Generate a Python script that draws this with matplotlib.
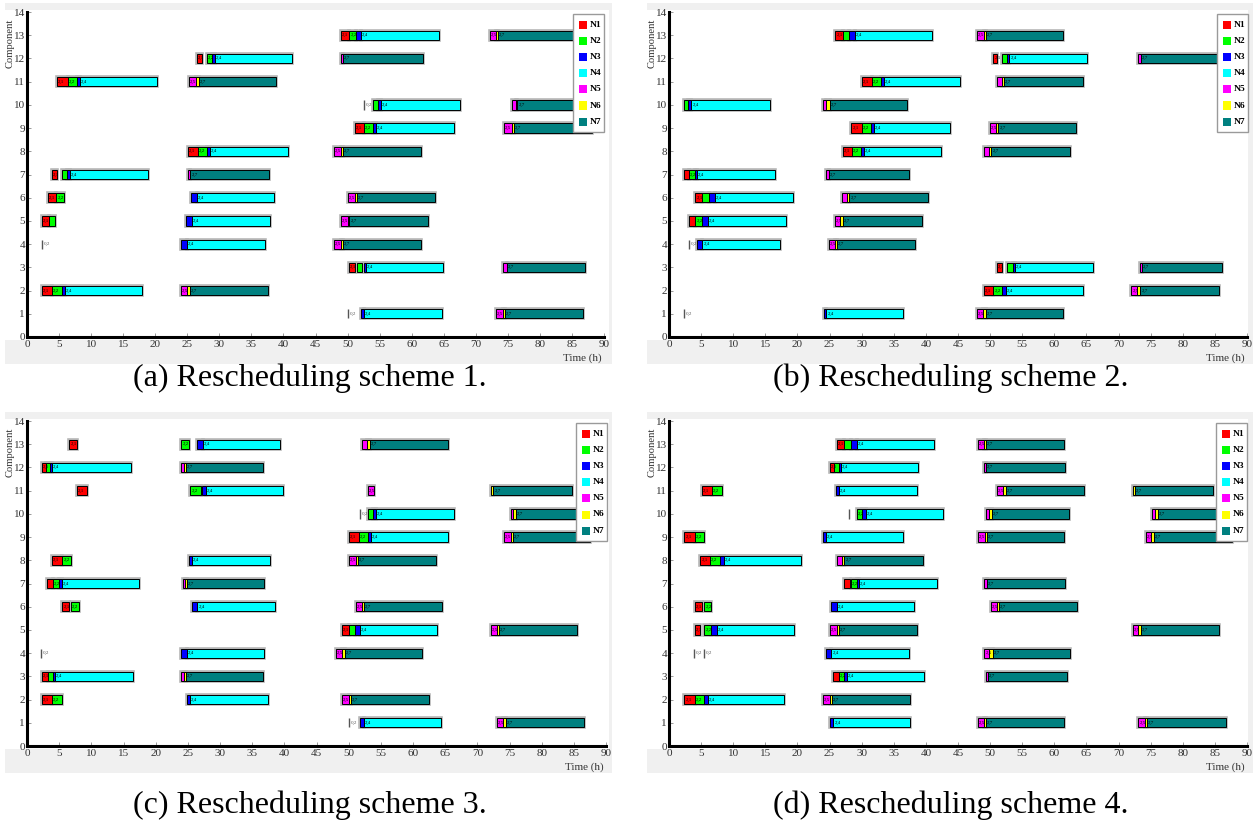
import matplotlib
matplotlib.use("Agg")
import matplotlib.pyplot as plt
from matplotlib.patches import Rectangle

W, H = 1253, 827
plt.rcParams['font.family'] = ['Liberation Serif', 'DejaVu Serif']

machine_names = ["N1", "N2", "N3", "N4", "N5", "N6", "N7"]
machine_colors = ["#ff0000", "#00ff00", "#0000ff", "#00ffff", "#ff00ff", "#ffff00", "#008080"]
captions = ["(a) Rescheduling scheme 1.", "(b) Rescheduling scheme 2.",
            "(c) Rescheduling scheme 3.", "(d) Rescheduling scheme 4."]
x_ticks = list(range(0, 91, 5))
y_ticks = list(range(0, 15))

# segments: (component row, machine number (0 = zero-length mark), start h, end h)
scheme_1 = [
    (13, 1, 48.9, 50.3), (13, 2, 50.3, 51.3), (13, 3, 51.3, 52.1), (13, 4, 52.1, 64.3),
    (13, 5, 72.2, 73.2), (13, 6, 73.2, 73.5), (13, 7, 73.5, 86.5),
    (12, 1, 26.5, 27.3), (12, 2, 28.0, 28.8), (12, 3, 28.8, 29.3), (12, 4, 29.3, 41.3),
    (12, 5, 48.9, 49.3), (12, 7, 49.3, 61.7),
    (11, 1, 4.7, 6.4), (11, 2, 6.4, 7.8), (11, 3, 7.8, 8.2), (11, 4, 8.2, 20.3),
    (11, 5, 25.3, 26.4), (11, 6, 26.4, 26.8), (11, 7, 26.8, 38.9),
    (10, 0, 52.5, 52.5), (10, 2, 54.0, 54.8), (10, 3, 54.8, 55.2), (10, 4, 55.2, 67.5),
    (10, 5, 75.6, 76.2), (10, 6, 76.2, 76.5), (10, 7, 76.5, 87.0),
    (9, 1, 51.1, 52.6), (9, 2, 52.6, 53.9), (9, 3, 53.9, 54.4), (9, 4, 54.4, 66.6),
    (9, 5, 74.4, 75.6), (9, 6, 75.6, 75.9), (9, 7, 75.9, 88.1),
    (8, 1, 25.1, 26.6), (8, 2, 26.6, 28.1), (8, 3, 28.1, 28.5), (8, 4, 28.5, 40.7),
    (8, 5, 47.9, 48.9), (8, 6, 48.9, 49.3), (8, 7, 49.3, 61.5),
    (7, 1, 3.9, 4.7), (7, 2, 5.5, 6.2), (7, 3, 6.2, 6.7), (7, 4, 6.7, 18.8),
    (7, 5, 25.1, 25.5), (7, 7, 25.5, 37.8),
    (6, 1, 3.3, 4.6), (6, 2, 4.6, 5.7), (6, 3, 25.6, 26.5), (6, 4, 26.5, 38.6),
    (6, 5, 50.0, 51.1), (6, 6, 51.1, 51.4), (6, 7, 51.4, 63.6),
    (5, 1, 2.3, 3.4), (5, 2, 3.4, 4.4), (5, 3, 24.8, 25.7), (5, 4, 25.7, 37.9),
    (5, 5, 48.9, 50.0), (5, 6, 50.0, 50.3), (5, 7, 50.3, 62.5),
    (4, 0, 2.3, 2.3), (4, 3, 24.0, 24.9), (4, 4, 24.9, 37.1),
    (4, 5, 47.9, 48.9), (4, 6, 48.9, 49.3), (4, 7, 49.3, 61.5),
    (3, 1, 50.2, 51.1), (3, 2, 51.4, 52.2), (3, 3, 52.5, 52.9), (3, 4, 52.9, 64.9),
    (3, 5, 74.2, 74.8), (3, 7, 74.8, 87.0),
    (2, 1, 2.3, 3.9), (2, 2, 3.9, 5.5), (2, 3, 5.5, 5.9), (2, 4, 5.9, 18.0),
    (2, 5, 24.0, 25.0), (2, 6, 25.0, 25.4), (2, 7, 25.4, 37.6),
    (1, 0, 50.1, 50.1), (1, 3, 52.1, 52.6), (1, 4, 52.6, 64.7),
    (1, 5, 73.2, 74.2), (1, 6, 74.2, 74.5), (1, 7, 74.5, 86.8),
]

scheme_2 = [
    (13, 1, 25.9, 27.1), (13, 2, 27.1, 28.1), (13, 3, 28.1, 28.9), (13, 4, 28.9, 41.0),
    (13, 5, 47.9, 49.0), (13, 6, 49.0, 49.3), (13, 7, 49.3, 61.4),
    (12, 1, 50.5, 51.0), (12, 2, 51.9, 52.6), (12, 3, 52.6, 53.0), (12, 4, 53.0, 65.1),
    (12, 5, 73.1, 73.5), (12, 7, 73.5, 85.5),
    (11, 1, 30.1, 31.6), (11, 2, 31.6, 33.0), (11, 3, 33.0, 33.5), (11, 4, 33.5, 45.3),
    (11, 5, 51.0, 51.8), (11, 6, 51.8, 52.2), (11, 7, 52.2, 64.4),
    (10, 2, 2.3, 3.0), (10, 3, 3.0, 3.5), (10, 4, 3.5, 15.7),
    (10, 5, 24.0, 24.5), (10, 6, 24.5, 25.0), (10, 7, 25.0, 37.1),
    (9, 1, 28.4, 30.1), (9, 2, 30.1, 31.4), (9, 3, 31.4, 31.9), (9, 4, 31.9, 43.7),
    (9, 5, 50.0, 50.9), (9, 6, 50.9, 51.3), (9, 7, 51.3, 63.4),
    (8, 1, 27.1, 28.5), (8, 2, 28.5, 29.9), (8, 3, 29.9, 30.3), (8, 4, 30.3, 42.3),
    (8, 5, 49.0, 49.8), (8, 6, 49.8, 50.2), (8, 7, 50.2, 62.4),
    (7, 1, 2.3, 3.1), (7, 2, 3.1, 4.1), (7, 3, 4.1, 4.4), (7, 4, 4.4, 16.5),
    (7, 5, 24.5, 24.9), (7, 7, 24.9, 37.3),
    (6, 1, 4.1, 5.2), (6, 2, 5.2, 6.2), (6, 3, 6.2, 7.1), (6, 4, 7.1, 19.3),
    (6, 5, 26.9, 27.7), (6, 6, 27.7, 28.1), (6, 7, 28.1, 40.4),
    (5, 1, 3.1, 4.1), (5, 2, 4.1, 5.2), (5, 3, 5.2, 6.0), (5, 4, 6.0, 18.2),
    (5, 5, 25.8, 26.7), (5, 6, 26.7, 27.1), (5, 7, 27.1, 39.4),
    (4, 0, 3.1, 3.1), (4, 3, 4.4, 5.2), (4, 4, 5.2, 17.3),
    (4, 5, 24.9, 25.8), (4, 6, 25.8, 26.2), (4, 7, 26.2, 38.3),
    (3, 1, 51.0, 51.8), (3, 2, 52.7, 53.5), (3, 3, 53.5, 53.9), (3, 4, 53.9, 66.0),
    (3, 5, 73.3, 73.7), (3, 7, 73.7, 86.1),
    (2, 1, 49.0, 50.5), (2, 2, 50.5, 51.9), (2, 3, 51.9, 52.5), (2, 4, 52.5, 64.4),
    (2, 5, 72.0, 72.9), (2, 6, 72.9, 73.4), (2, 7, 73.4, 85.6),
    (1, 0, 2.3, 2.3), (1, 3, 24.1, 24.5), (1, 4, 24.5, 36.4),
    (1, 5, 47.9, 48.9), (1, 6, 48.9, 49.3), (1, 7, 49.3, 61.4),
]

scheme_3 = [
    (13, 1, 6.6, 7.8), (13, 2, 24.0, 25.2), (13, 3, 26.5, 27.4), (13, 4, 27.4, 39.4),
    (13, 5, 52.1, 52.9), (13, 6, 52.9, 53.3), (13, 7, 53.3, 65.5),
    (12, 1, 2.3, 2.9), (12, 2, 2.9, 3.5), (12, 3, 3.5, 3.9), (12, 4, 3.9, 16.1),
    (12, 5, 24.0, 24.4), (12, 6, 24.4, 24.7), (12, 7, 24.7, 36.7),
    (11, 1, 7.8, 9.4), (11, 2, 25.4, 27.0), (11, 3, 27.2, 27.8), (11, 4, 27.8, 39.8),
    (11, 5, 53.0, 53.9), (11, 6, 72.1, 72.5), (11, 7, 72.5, 84.7),
    (10, 0, 51.7, 51.7), (10, 2, 53.0, 53.8), (10, 3, 53.8, 54.2), (10, 4, 54.2, 66.3),
    (10, 5, 75.2, 75.5), (10, 6, 75.5, 76.0), (10, 7, 76.0, 86.8),
    (9, 1, 50.0, 51.6), (9, 2, 51.6, 53.0), (9, 3, 53.0, 53.4), (9, 4, 53.4, 65.5),
    (9, 5, 74.1, 75.2), (9, 6, 75.2, 75.5), (9, 7, 75.5, 87.5),
    (8, 1, 3.9, 5.5), (8, 2, 5.5, 6.9), (8, 3, 25.2, 25.6), (8, 4, 25.6, 37.7),
    (8, 5, 50.0, 51.1), (8, 6, 51.1, 51.4), (8, 7, 51.4, 63.5),
    (7, 1, 3.1, 4.0), (7, 2, 4.0, 5.0), (7, 3, 5.0, 5.4), (7, 4, 5.4, 17.4),
    (7, 5, 24.3, 24.6), (7, 6, 24.6, 24.8), (7, 7, 24.8, 36.9),
    (6, 1, 5.5, 6.6), (6, 2, 6.8, 8.1), (6, 3, 25.7, 26.5), (6, 4, 26.5, 38.6),
    (6, 5, 51.1, 52.1), (6, 6, 52.1, 52.4), (6, 7, 52.4, 64.5),
    (5, 1, 49.0, 50.0), (5, 2, 50.0, 51.0), (5, 3, 51.0, 51.8), (5, 4, 51.8, 63.8),
    (5, 5, 72.1, 73.1), (5, 6, 73.1, 73.4), (5, 7, 73.4, 85.5),
    (4, 0, 2.2, 2.2), (4, 3, 24.0, 24.8), (4, 4, 24.8, 36.9),
    (4, 5, 48.0, 49.0), (4, 6, 49.0, 49.4), (4, 7, 49.4, 61.4),
    (3, 1, 2.3, 3.2), (3, 2, 3.2, 4.1), (3, 3, 4.1, 4.4), (3, 4, 4.4, 16.4),
    (3, 5, 24.0, 24.4), (3, 6, 24.4, 24.7), (3, 7, 24.7, 36.7),
    (2, 1, 2.3, 3.9), (2, 2, 3.9, 5.5), (2, 3, 24.8, 25.3), (2, 4, 25.3, 37.4),
    (2, 5, 49.0, 50.0), (2, 6, 50.0, 50.3), (2, 7, 50.3, 62.5),
    (1, 0, 50.0, 50.0), (1, 3, 51.8, 52.4), (1, 4, 52.4, 64.3),
    (1, 5, 73.1, 74.0), (1, 6, 74.0, 74.4), (1, 7, 74.4, 86.6),
]

scheme_4 = [
    (13, 1, 26.1, 27.3), (13, 2, 27.3, 28.4), (13, 3, 28.4, 29.3), (13, 4, 29.3, 41.3),
    (13, 5, 48.1, 49.1), (13, 6, 49.1, 49.4), (13, 7, 49.4, 61.5),
    (12, 1, 25.1, 25.7), (12, 2, 25.7, 26.4), (12, 3, 26.4, 26.8), (12, 4, 26.8, 38.8),
    (12, 5, 49.1, 49.4), (12, 7, 49.4, 61.7),
    (11, 1, 5.1, 6.7), (11, 2, 6.7, 8.2), (11, 3, 26.0, 26.5), (11, 4, 26.5, 38.6),
    (11, 5, 51.0, 52.0), (11, 6, 52.0, 52.4), (11, 7, 52.4, 64.6),
    (11, 6, 72.2, 72.5), (11, 7, 72.5, 84.7),
    (10, 0, 28.1, 28.1), (10, 2, 29.3, 30.1), (10, 3, 30.1, 30.6), (10, 4, 30.6, 42.6),
    (10, 5, 49.3, 49.8), (10, 6, 49.8, 50.3), (10, 7, 50.3, 62.3),
    (10, 5, 75.2, 75.6), (10, 6, 75.6, 76.1), (10, 7, 76.1, 85.5),
    (9, 1, 2.4, 4.0), (9, 2, 4.0, 5.5), (9, 3, 24.0, 24.4), (9, 4, 24.4, 36.5),
    (9, 5, 48.1, 49.2), (9, 6, 49.2, 49.5), (9, 7, 49.5, 61.5),
    (9, 5, 74.2, 75.1), (9, 6, 75.1, 75.5), (9, 7, 75.5, 87.7),
    (8, 1, 4.9, 6.4), (8, 2, 6.4, 8.0), (8, 3, 8.0, 8.5), (8, 4, 8.5, 20.6),
    (8, 5, 26.1, 27.0), (8, 6, 27.0, 27.3), (8, 7, 27.3, 39.6),
    (7, 1, 27.3, 28.2), (7, 2, 28.3, 29.3), (7, 3, 29.3, 29.6), (7, 4, 29.6, 41.7),
    (7, 5, 49.1, 49.5), (7, 7, 49.5, 61.7),
    (6, 1, 4.0, 5.2), (6, 2, 5.5, 6.5), (6, 3, 25.3, 26.1), (6, 4, 26.1, 38.2),
    (6, 5, 50.1, 51.0), (6, 6, 51.0, 51.4), (6, 7, 51.4, 63.5),
    (5, 1, 4.0, 4.9), (5, 2, 5.5, 6.5), (5, 3, 6.5, 7.4), (5, 4, 7.4, 19.4),
    (5, 5, 25.1, 26.1), (5, 6, 26.1, 26.5), (5, 7, 26.5, 38.6),
    (5, 5, 72.2, 73.1), (5, 6, 73.1, 73.5), (5, 7, 73.5, 85.7),
    (4, 0, 3.9, 3.9), (4, 0, 5.5, 5.5), (4, 3, 24.4, 25.3), (4, 4, 25.3, 37.4),
    (4, 5, 49.1, 49.9), (4, 6, 49.9, 50.4), (4, 7, 50.4, 62.5),
    (3, 1, 25.6, 26.4), (3, 2, 26.4, 27.2), (3, 3, 27.2, 27.7), (3, 4, 27.7, 39.7),
    (3, 5, 49.3, 49.7), (3, 7, 49.7, 61.9),
    (2, 1, 2.4, 4.0), (2, 2, 4.0, 5.5), (2, 3, 5.5, 6.0), (2, 4, 6.0, 17.9),
    (2, 5, 24.0, 25.0), (2, 6, 25.0, 25.4), (2, 7, 25.4, 37.5),
    (1, 3, 25.1, 25.6), (1, 4, 25.6, 37.5),
    (1, 5, 48.1, 49.0), (1, 6, 49.0, 49.4), (1, 7, 49.4, 61.5),
    (1, 5, 73.1, 74.1), (1, 6, 74.1, 74.4), (1, 7, 74.4, 86.7),
]

schemes = [scheme_1, scheme_2, scheme_3, scheme_4]

fig = plt.figure(figsize=(W / 100, H / 100), dpi=100)
fig.patch.set_facecolor("white")


def px_rect(x0, y0, x1, y1, **kw):
    r = Rectangle((x0 / W, 1 - y1 / H), (x1 - x0) / W, (y1 - y0) / H,
                  transform=fig.transFigure, **kw)
    fig.add_artist(r)
    return r


def px_text(x, y, s, **kw):
    fig.text(x / W, 1 - y / H, s, **kw)


# panel geometry in pixels: (axes left, axes right, axes top, axes bottom, dx, dy)
panels = [
    (27, 604, 12, 337, 0, 0),
    (669, 1247, 12, 337, 642, 0),
    (27, 606, 421, 746, 0, 409),
    (669, 1247, 421, 746, 642, 409),
]
caption_pos = [(310, 378), (951, 378), (310, 805), (951, 805)]

BAR_H = 0.4
LABEL_W = 1.25   # approx. width of a tiny in-bar label, in hours
for k, (l, r, t, b, dx, dy) in enumerate(panels):
    # gray figure window and white plotting paper
    px_rect(5 + dx, 3 + dy, 612 + dx if dx == 0 else 1253, 364 + dy,
            facecolor="#f0f0f0", edgecolor="none", zorder=0)
    px_rect(5 + dx, 10 + dy, 609 + dx if dx == 0 else 1248, 340 + dy,
            facecolor="white", edgecolor="none", zorder=0.5)

    ax = fig.add_axes([l / W, 1 - b / H, (r - l) / W, (b - t) / H])
    ax.set_facecolor("none")
    ax.set_zorder(2)
    ax.set_xlim(0, 90)
    ax.set_ylim(0, 14)
    ax.set_xticks(x_ticks)
    ax.set_yticks(y_ticks)
    ax.set_xticklabels([str(v) for v in x_ticks])
    ax.set_yticklabels([str(v) for v in y_ticks])
    for side in ("top", "right"):
        ax.spines[side].set_visible(False)
    for side in ("left", "bottom"):
        ax.spines[side].set_linewidth(2.2)
        ax.spines[side].set_color("black")
    ax.tick_params(direction="in", length=3, width=0.7, color="#999999",
                   labelsize=8, labelcolor="#333333", pad=2)
    ax.tick_params(axis="y", pad=1.5)

    segs = schemes[k]
    # shadows
    for (row, m, s, e) in segs:
        if m == 0:
            continue
        ax.barh(row, e - s, left=s, height=BAR_H, color="none",
                edgecolor="#b5b5b5", linewidth=2.6, zorder=2)
    for (row, m, s, e) in segs:
        if m == 0:
            ax.vlines(s, row - BAR_H / 2, row + BAR_H / 2, color="#555555",
                      linewidth=1.0, zorder=3)
        else:
            ax.barh(row, e - s, left=s, height=BAR_H, color=machine_colors[m - 1],
                    edgecolor="black", linewidth=0.7, zorder=3)

    # tiny in-bar labels: longest segments first, skip those that would collide
    placed = {}
    for (row, m, s, e) in sorted(segs, key=lambda z: -(z[3] - z[2])):
        if m == 0:
            lab, lx, col = "0,2", s + 0.3, "#555555"
        else:
            lab, lx, col = f"2,{m}", s + 0.15, "black"
        span = (lx, lx + LABEL_W)
        if any(not (span[1] <= a or span[0] >= bb) for a, bb in placed.get(row, [])):
            continue
        placed.setdefault(row, []).append(span)
        ax.text(lx, row, lab, fontsize=3.6, color=col,
                va="center", ha="left", zorder=4, clip_on=True)

    # legend (manual, MATLAB-like)
    lx1 = r + (0 if k in (0, 3) else 1)
    lx0 = lx1 - 31
    ly0 = t + 2
    ly1 = t + 120
    px_rect(lx0, ly0, lx1, ly1, facecolor="white", edgecolor="#9a9a9a",
            linewidth=1.0, zorder=6)
    for i, (name, col) in enumerate(zip(machine_names, machine_colors)):
        cy = ly0 + 11 + i * 16.1
        px_rect(lx0 + 6, cy - 4, lx0 + 14, cy + 4, facecolor=col,
                edgecolor="none", zorder=7)
        px_text(lx0 + 17, cy, name, fontsize=6.8, fontweight="bold",
                va="center", ha="left", zorder=7)

    # axis labels
    px_text(10 + dx, 43 + dy, "Component", rotation=90, fontsize=7.6,
            va="center", ha="center", color="#333333", zorder=7)
    px_text(r - 22, 358 + dy, "Time (h)", fontsize=8, va="center",
            ha="center", color="#333333", zorder=7)

    cx, cy = caption_pos[k]
    px_text(cx, cy, captions[k], fontsize=23, va="center", ha="center",
            color="black", zorder=7)

fig.savefig("out.png", dpi=100, facecolor="white")
